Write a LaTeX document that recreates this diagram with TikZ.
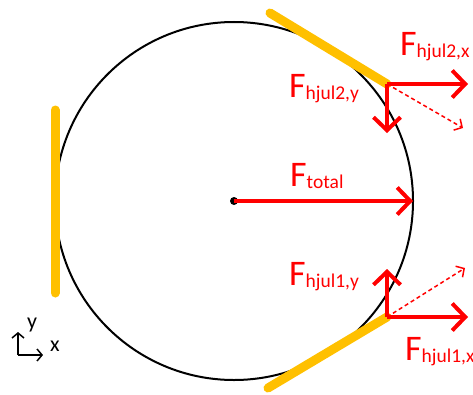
\documentclass[tikz,border=0pt]{standalone}
\usepackage{fontspec}
\setmainfont{Carlito}
\usetikzlibrary{arrows.meta}
\definecolor{Gold}{RGB}{255, 192, 0}
\definecolor{ForceRed}{RGB}{255, 0, 0}
\newcommand{\fsub}[1]{\raisebox{-0.06em}{\fontsize{19.5bp}{20bp}\selectfont #1}}

\begin{document}
\begin{tikzpicture}[x=1bp, y=1bp,
    force/.style={ForceRed, line width=4bp, -{Straight Barb[length=13bp, width=27bp]}},
    resultant/.style={ForceRed, line width=1.5bp, dash pattern=on 4bp off 3bp, -{Straight Barb[length=6bp, width=13bp]}},
    rail/.style={Gold, line width=9bp, line cap=round},
    flabel/.style={ForceRed, font=\fontsize{36bp}{40bp}\selectfont, anchor=base west, inner sep=0pt},
    axlabel/.style={font=\fontsize{22bp}{24bp}\selectfont, inner sep=0pt}]
  \useasboundingbox (0,0) rectangle (473,394);
  % Wheel
  \coordinate (c) at (234,193);
  \draw[line width=2bp] (c) circle (179);
  \fill (c) circle (4);
  % Rails
  \coordinate (h2) at (387,310);
  \coordinate (h1) at (387,77);
  \coordinate (r2) at (270,381);
  \coordinate (r1) at (268,6);
  \coordinate (lt) at (55,284);
  \coordinate (lb) at (55,101);
  \draw[rail] (lt) -- (lb);
  \draw[rail] (r2) -- (h2);
  \draw[rail] (r1) -- (h1);
  % Forces at upper contact
  \coordinate (h2x) at (468,310);
  \coordinate (h2y) at (387,261);
  \coordinate (h2r) at (463,266);
  \draw[resultant] (h2) -- (h2r);
  \draw[force] (h2) -- (h2x);
  \draw[force] (h2) -- (h2y);
  \node[flabel] (l2x) at (400,339) {F\fsub{hjul2,x}};
  \node[flabel] (l2y) at (289,297) {F\fsub{hjul2,y}};
  % Forces at lower contact
  \coordinate (h1x) at (468,77);
  \coordinate (h1y) at (387,125);
  \coordinate (h1r) at (465,126);
  \draw[resultant] (h1) -- (h1r);
  \draw[force] (h1) -- (h1x);
  \draw[force] (h1) -- (h1y);
  \node[flabel] (l1y) at (289,109) {F\fsub{hjul1,y}};
  \node[flabel] (l1x) at (405,34) {F\fsub{hjul1,x}};
  % Total force
  \coordinate (ct) at (413,193);
  \draw[force] (c) -- (ct);
  \node[flabel] (ltot) at (290,208) {F\fsub{total}};
  % Axes
  \coordinate (o) at (18,39);
  \coordinate (ay) at (18,62);
  \coordinate (ax) at (43,39);
  \draw[line width=1.5bp, -{Straight Barb[length=5bp, width=12bp]}] (o) -- (ay);
  \draw[line width=1.5bp, -{Straight Barb[length=5bp, width=12bp]}] (o) -- (ax);
  \node[axlabel] (ly) at (32,69) {y};
  \node[axlabel] (lx) at (55,48) {x};
\end{tikzpicture}
\end{document}
